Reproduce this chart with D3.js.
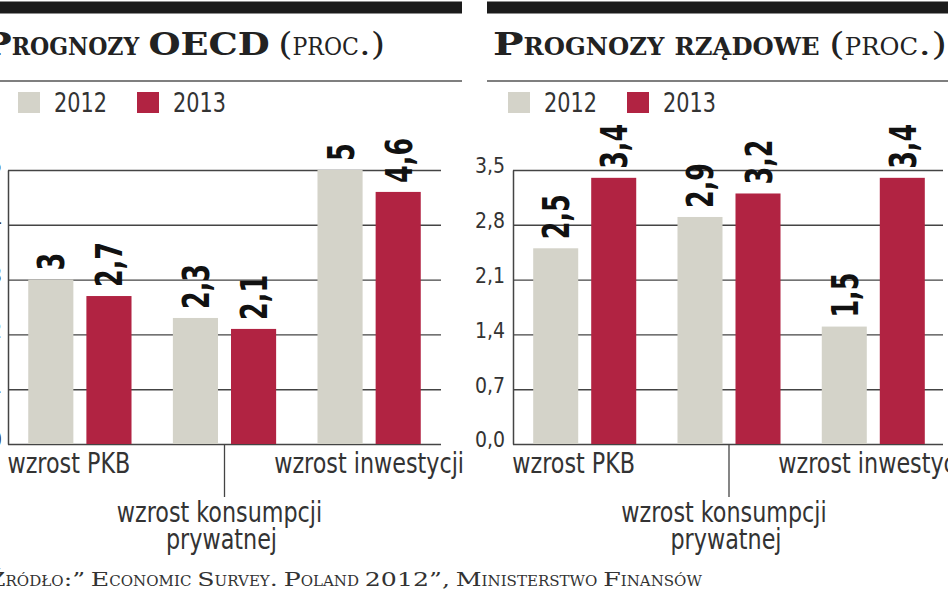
<!DOCTYPE html>
<html><head><meta charset="utf-8">
<script src="https://cdn.jsdelivr.net/npm/d3@7"></script>
<style>body{margin:0;background:#fff}svg{display:block}</style>
</head><body>
<svg id="c" width="948" height="593"></svg>
<script>
// ---------- data ----------
const categories = ["wzrost PKB", "wzrost konsumpcji prywatnej", "wzrost inwestycji"];
const years = ["2012", "2013"];
const oecd2012 = [3, 2.3, 5];
const oecd2013 = [2.7, 2.1, 4.6];
const gov2012 = [2.5, 2.9, 1.5];
const gov2013 = [3.4, 3.2, 3.4];
const oecdTicks = [0, 1, 2, 3, 4, 5];
const oecdTickLabels = ["0", "1", "2", "3", "4", "5"];
const govTicks = [0, 0.7, 1.4, 2.1, 2.8, 3.5];
const govTickLabels = ["0,0", "0,7", "1,4", "2,1", "2,8", "3,5"];
const oecdTitle = ["Prognozy OECD", " (proc.)"];
const govTitle = ["Prognozy rządowe", " (proc.)"];
const sourceText = "Źródło:\u201D Economic Survey. Poland 2012\u201D, Ministerstwo Finansów";

// ---------- style ----------
const COND = "'Liberation Sans Narrow','DejaVu Sans Condensed','Arial Narrow',sans-serif";
const SLAB = "'DejaVu Serif','Liberation Serif',serif";
const colors = {"2012": "#d4d3c9", "2013": "#b12342"};
const fmt = v => String(v).replace(".", ",");

const svg = d3.select("#c");

function scaleX(sel, ax, k, ky, ay) {
  if (ky) sel.attr("transform", `translate(${ax},${ay}) scale(${k},${ky}) translate(${-ax},${-ay})`);
  else sel.attr("transform", `translate(${ax},0) scale(${k},1) translate(${-ax},0)`);
}

// small caps built from separate runs, each with its own horizontal scale
function smallCapsLine(parent, segments, y, big, small, kBig, kSmall, fill) {
  const g = parent.append("g");
  let cursor = 0;
  segments.forEach(seg => {
    const runs = [];
    for (const ch of seg.t) {
      const lower = ch !== ch.toUpperCase();
      const kind = ch === " " ? "space" : (lower ? "small" : "big");
      const c = ch.toUpperCase();
      if (runs.length && runs[runs.length - 1].kind === kind) runs[runs.length - 1].t += c;
      else runs.push({t: c, kind});
    }
    runs.forEach(r => {
      const k = r.kind === "big" ? kBig : (r.kind === "small" ? kSmall : 1.1);
      const t = g.append("text").attr("x", cursor).attr("y", y)
        .attr("font-family", SLAB).attr("font-weight", seg.w).attr("fill", fill)
        .attr("font-size", r.kind === "big" ? big : small)
        .style("white-space", "pre").text(r.t);
      const w = t.node().getComputedTextLength();
      scaleX(t, cursor, k);
      cursor += w * k;
    });
  });
  return {g, width: cursor};
}
function fitSpan(line, x0, x1) {
  line.g.attr("transform", `translate(${x0},0) scale(${(x1 - x0) / line.width},1)`);
}

function panel(o) {
  const g = svg.append("g");
  g.append("rect").attr("x", o.frame[0]).attr("y", 1.5).attr("width", o.frame[1] - o.frame[0]).attr("height", 12).attr("fill", "#1b1b1b");
  g.append("line").attr("x1", o.frame[0]).attr("x2", o.frame[1]).attr("y1", 81).attr("y2", 81).attr("stroke", "#555").attr("stroke-width", 1.5);

  // title
  const tl = smallCapsLine(g, [{t: o.title[0], w: "bold"}, {t: o.title[1], w: "normal"}], 55, 32, 25, 1.2, 0.92, "#222");
  fitSpan(tl, o.titleSpan[0], o.titleSpan[1]);

  // legend
  const lg = g.append("g").attr("font-family", COND).attr("font-size", 27).attr("fill", "#333");
  years.forEach((yr, i) => {
    const lx = o.legendX + i * 119;
    lg.append("rect").attr("x", lx).attr("y", 92).attr("width", 22).attr("height", 21).attr("fill", colors[yr]);
    const t = lg.append("text").attr("x", lx + 36).attr("y", 112.5).text(yr);
    scaleX(t, lx + 36, 53 / t.node().getComputedTextLength());
  });

  const x0 = d3.scaleBand().domain(categories).range([o.left, o.right]).paddingInner(0.286).paddingOuter(0.14);
  const x1 = d3.scaleBand().domain(years).range([0, x0.bandwidth()]).paddingInner(0.224);
  const y = d3.scaleLinear().domain([0, o.max]).range([444, 170]);

  const axis = d3.axisLeft(y).tickValues(o.ticks).tickSize(-(o.gridRight - o.left)).tickSizeOuter(0)
    .tickPadding(o.tickPad).tickFormat((d, i) => o.tickLabels[i]);
  const ag = g.append("g").attr("transform", `translate(${o.left},0)`).call(axis);
  ag.select(".domain").attr("stroke", "#444").attr("stroke-width", 1.5);
  ag.selectAll(".tick line").attr("stroke", "#444").attr("stroke-width", 1.4);
  ag.selectAll(".tick text").attr("font-family", COND).attr("font-size", 21).attr("fill", "#333").attr("dy", "0.14em");

  const rows = categories.map((c, i) => years.map((yr, j) => ({cat: c, yr, v: o.values[j][i]}))).flat();
  g.append("g").selectAll("rect").data(rows).join("rect")
    .attr("x", d => x0(d.cat) + x1(d.yr)).attr("width", x1.bandwidth())
    .attr("y", d => y(d.v)).attr("height", d => y(0) - y(d.v))
    .attr("fill", d => colors[d.yr]);

  const vl = g.append("g").selectAll("text").data(rows).join("text")
    .attr("font-family", COND).attr("font-weight", "bold").attr("font-size", 38).attr("fill", "#111")
    .text(d => fmt(d.v));
  const probe = g.append("text").attr("font-family", COND).attr("font-weight", "bold").attr("font-size", 38).text("2,7");
  const kv = 45 / probe.node().getComputedTextLength();
  probe.remove();
  vl.attr("transform", d => {
    const cx = x0(d.cat) + x1(d.yr) + x1.bandwidth() / 2 + 13.5;
    return `translate(${cx},${y(d.v) - 9}) rotate(-90) scale(${kv},1)`;
  });

  const mid = x0(categories[1]) + x0.bandwidth() / 2;
  g.append("line").attr("x1", mid).attr("x2", mid).attr("y1", 444).attr("y2", 497).attr("stroke", "#444").attr("stroke-width", 1.3);

  // category labels (tall, condensed face)
  const cl = g.append("g").attr("font-family", COND).attr("font-size", 25).attr("fill", "#333").attr("text-anchor", "middle");
  const probe2 = cl.append("text").text(categories[2]);
  const kc = 190 / probe2.node().getComputedTextLength();
  probe2.remove();
  const ky = 1.1;
  const dxs = [-11, -5, 0];
  categories.forEach((c, i) => {
    const cx = x0(c) + x0.bandwidth() / 2 + dxs[i];
    const words = c.split(" ");
    if (i === 1) {
      scaleX(cl.append("text").attr("x", cx).attr("y", 522).text(words.slice(0, 2).join(" ")), cx, kc, ky, 522);
      scaleX(cl.append("text").attr("x", cx + 2).attr("y", 549).text(words.slice(2).join(" ")), cx + 2, kc, ky, 549);
    } else {
      scaleX(cl.append("text").attr("x", cx).attr("y", 473).text(c), cx, kc, ky, 473);
    }
  });
}

panel({frame: [0, 462], left: 8, right: 441, gridRight: 441, max: 5, ticks: oecdTicks, tickLabels: oecdTickLabels,
  tickPad: 6, values: [oecd2012, oecd2013], title: oecdTitle, titleSpan: [-16, 385], legendX: 18});
panel({frame: [487, 948], left: 513, right: 945, gridRight: 943, max: 3.5, ticks: govTicks, tickLabels: govTickLabels,
  tickPad: 8, values: [gov2012, gov2013], title: govTitle, titleSpan: [493, 947], legendX: 508});

// source line, fitted to the reference span
const src = smallCapsLine(svg, [{t: sourceText, w: "normal"}], 586, 18, 14, 1.2, 0.92, "#333");
fitSpan(src, -12, 702);
</script>
</body></html>
